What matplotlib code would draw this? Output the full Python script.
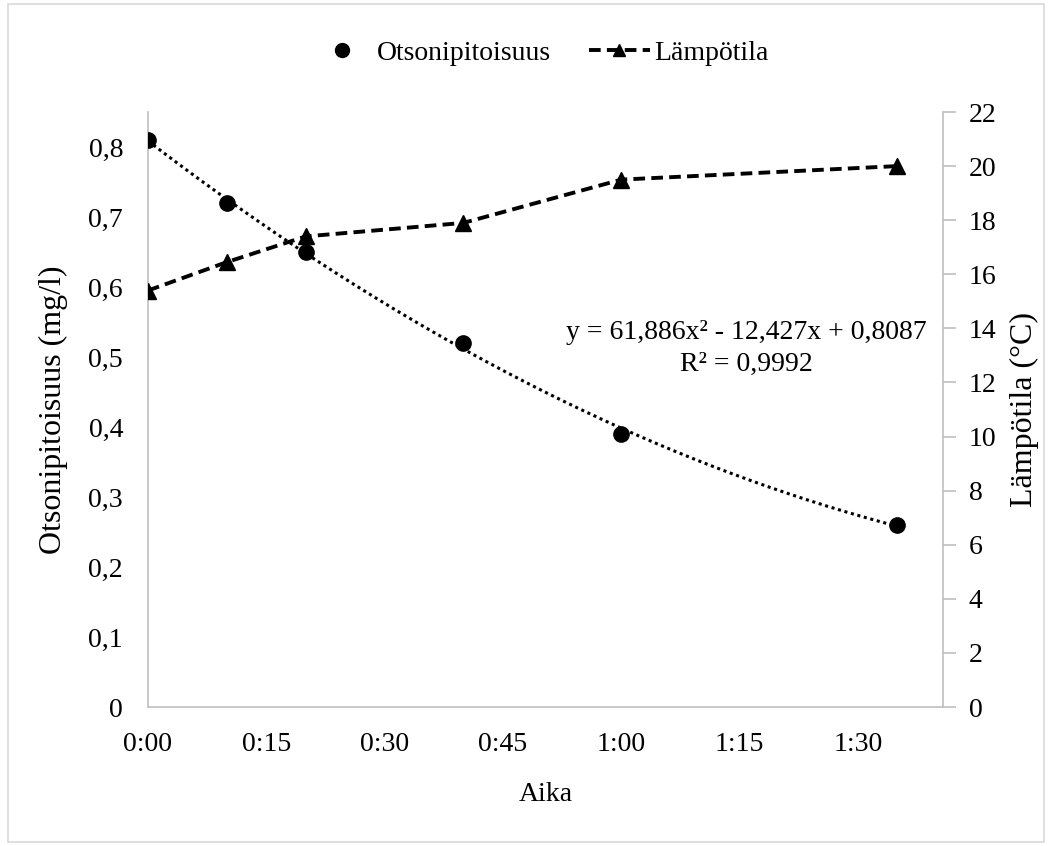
import numpy as np
import matplotlib
matplotlib.use('Agg')
import matplotlib.pyplot as plt
from matplotlib.ticker import FixedLocator, FuncFormatter
from matplotlib.lines import Line2D
from matplotlib.patches import Rectangle

plt.rcParams['font.family'] = ['Liberation Serif', 'DejaVu Serif']

# ========== 数据 ==========
aika_min = [0, 10, 20, 40, 60, 95]              # 时间（分钟）
otsoni = [0.81, 0.72, 0.65, 0.52, 0.39, 0.26]   # 臭氧浓度 mg/l
lampotila = [15.4, 16.45, 17.4, 17.9, 19.5, 20.0]  # 温度 °C

x_ticks = [0, 15, 30, 45, 60, 75, 90]
left_ticks = [0, 0.1, 0.2, 0.3, 0.4, 0.5, 0.6, 0.7, 0.8]
right_ticks = [0, 2, 4, 6, 8, 10, 12, 14, 16, 18, 20, 22]

GRAY = '#BFBFBF'
FS = 20
W, H = 1052, 846

fig = plt.figure(figsize=(W / 100, H / 100), dpi=100)
ax = fig.add_axes([148 / W, 1 - 707 / H, (943 - 148) / W, (707 - 112) / H])
ax2 = ax.twinx()

# 趋势线（二次多项式拟合）
coef = np.polyfit(aika_min, otsoni, 2)
xx = np.linspace(aika_min[0], aika_min[-1], 200)
ax.plot(xx, np.polyval(coef, xx), color='black', lw=2.2,
        linestyle=(0, (1, 1.2)), zorder=2)
ax.plot(aika_min, otsoni, 'o', color='black', ms=11, zorder=3)

ax2.plot(aika_min, lampotila, color='black', lw=2.8, linestyle=(0, (3, 1.6)),
         marker='^', ms=11, zorder=3)

ax.set_xlim(0, 100.8)
ax.set_ylim(0, 0.85)
ax2.set_ylim(0, 22)

ax.xaxis.set_major_locator(FixedLocator(x_ticks))
ax.xaxis.set_major_formatter(FuncFormatter(lambda v, p: f'{int(v) // 60}:{int(v) % 60:02d}'))
ax.yaxis.set_major_locator(FixedLocator(left_ticks))
ax.yaxis.set_major_formatter(FuncFormatter(
    lambda v, p: '0' if abs(v) < 1e-9 else f'{v:.1f}'.replace('.', ',')))
ax2.yaxis.set_major_locator(FixedLocator(right_ticks))

for a in (ax, ax2):
    for s in a.spines.values():
        s.set_color(GRAY)
        s.set_linewidth(1.2)
    a.spines['top'].set_visible(False)
ax.spines['right'].set_visible(False)
ax2.spines['left'].set_visible(False)
ax2.spines['bottom'].set_visible(False)

ax.tick_params(axis='x', length=0, labelsize=FS, pad=18)
ax.tick_params(axis='y', length=0, labelsize=FS, pad=18)
ax2.tick_params(axis='y', length=9, width=1.2, color=GRAY, direction='out',
                labelsize=FS, pad=9.5)

ax.set_xlabel('Aika', fontsize=FS, labelpad=18)
ax.set_ylabel('Otsonipitoisuus (mg/l)', fontsize=23)
ax2.set_ylabel('Lämpötila (°C)', fontsize=23)
ax.yaxis.set_label_coords(-0.1, 0.5)
ax2.yaxis.set_label_coords(1.084, 0.5)

# 回归方程
ax.text(0.753, 0.6025, 'y = 61,886x² - 12,427x + 0,8087\nR² = 0,9992',
        transform=ax.transAxes, ha='center', va='center', fontsize=FS,
        linespacing=1.33)

# 图例
h1 = Line2D([], [], linestyle='none', marker='o', color='black', ms=10)
h2 = Line2D([], [], color='black', lw=2.8, linestyle=(0, (3, 1.6)), marker='^', ms=8)
fig.legend([h1, h2], ['Otsonipitoisuus', 'Lämpötila'], loc='center',
           bbox_to_anchor=(540 / W, 1 - 53 / H), ncol=2, frameon=False,
           fontsize=FS, handlelength=2.2, handletextpad=0.15, columnspacing=1.35)

# 外框
fig.add_artist(Rectangle((8 / W, 4 / H), 1036 / W, 838 / H,
                         transform=fig.transFigure, fill=False,
                         edgecolor='#D9D9D9', lw=1.2))

fig.savefig('out.png', dpi=100)
